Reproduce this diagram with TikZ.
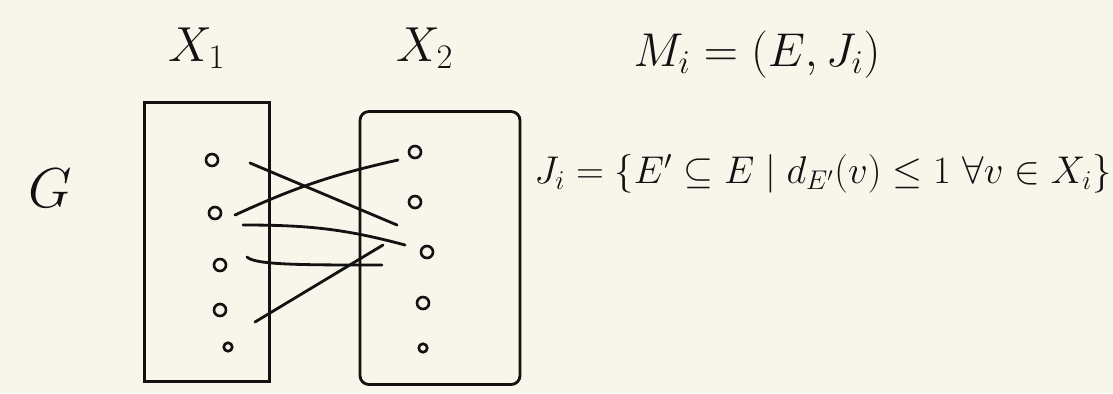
\documentclass[tikz,border=0pt]{standalone}
\usepackage{fix-cm}
\usepackage{amsmath}
\usetikzlibrary{calc}
\definecolor{paper}{RGB}{248,246,234}
\definecolor{ink}{RGB}{18,18,18}

\begin{document}
\begin{tikzpicture}[
    x=0.02cm, y=-0.02cm,
    part/.style={draw=ink, line width=1.6pt, inner sep=0pt},
    vtx/.style={circle, draw=ink, line width=1.5pt, minimum size=0.24cm, inner sep=0pt},
    wire/.style={draw=ink, line width=1.6pt, line cap=round},
    lbl/.style={text=ink, font=\fontsize{28}{30}\selectfont},
  ]
    % page
    \fill[paper] (0,0) rectangle (1113,393);
    \useasboundingbox (0,0) rectangle (1113,393);

    % the two parts
    \node[part, minimum width=2.5cm, minimum height=5.58cm] (p1) at (207,242) {};
    \node[part, rounded corners=5pt, minimum width=3.2cm, minimum height=5.46cm] (p2) at (440,248) {};

    % vertices of X_1
    \node[vtx] (v1) at (212,160) {};
    \node[vtx] (v2) at (215,213) {};
    \node[vtx] (v3) at (220,265) {};
    \node[vtx] (v4) at (220,310) {};
    \node[vtx, minimum size=0.17cm] (v5) at (228,347) {};
    % vertices of X_2
    \node[vtx] (w1) at (415,152) {};
    \node[vtx] (w2) at (415,202) {};
    \node[vtx] (w3) at (427,252) {};
    \node[vtx] (w4) at (423,303) {};
    \node[vtx, minimum size=0.17cm] (w5) at (423,348) {};

    % edges
    \draw[wire] ($(v1)+(38,3)$) -- ($(w3)+(-30,-27)$);
    \draw[wire] ($(v2)+(20,2)$) to[bend left=6] ($(w1)+(-17,8)$);
    \draw[wire] ($(v2)+(28,12)$) to[out=0, in=165] ($(w3)+(-22,-7)$);
    \draw[wire] ($(v3)+(27,-8)$) .. controls +(8,8) and +(-80,0) .. ($(w3)+(-45,13)$);
    \draw[wire] ($(v4)+(35,12)$) -- ($(w3)+(-44,-7)$);

    % labels
    \node[lbl] (x1) at (197,48) {$X_1$};
    \node[lbl] (x2) at (425,48) {$X_2$};
    \node[lbl, font=\fontsize{27}{29}\selectfont] (mat) at (757,55) {$M_i = (E, J_i)$};
    \node[lbl, font=\fontsize{32}{34}\selectfont] (g) at (50,188) {$G$};
    \node[lbl, font=\fontsize{22}{25}\selectfont] (indep) at (823,174)
      {$J_i = \{E' \subseteq E \mid d_{E'}(v) \le 1\ \forall v \in X_i\}$};
  \end{tikzpicture}
\end{document}
